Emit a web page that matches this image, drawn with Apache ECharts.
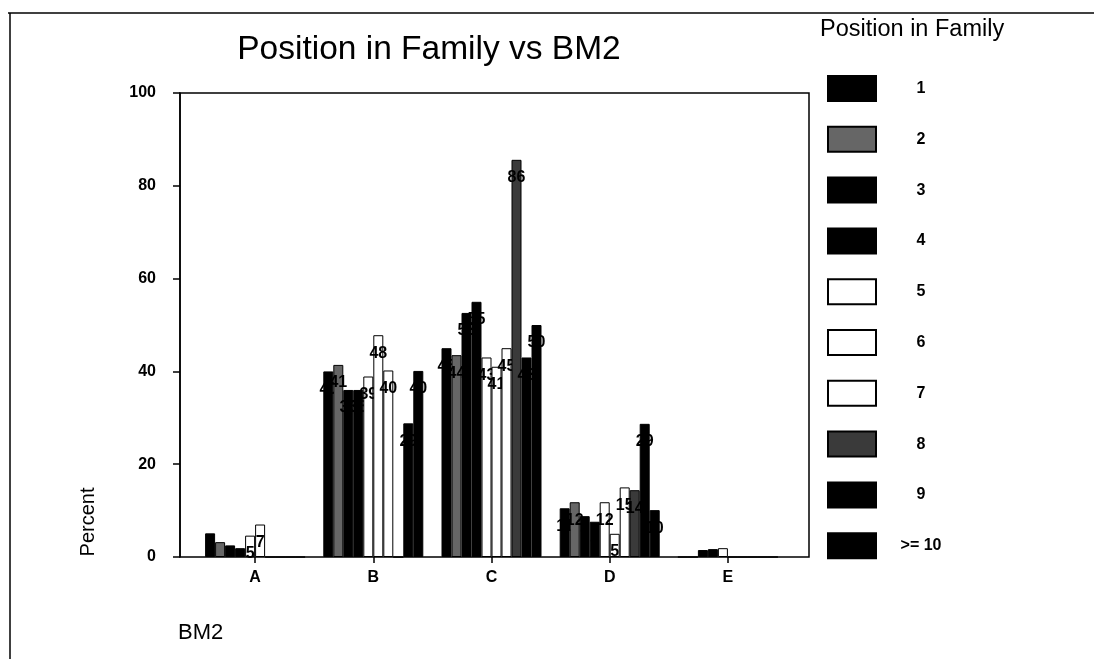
<!DOCTYPE html>
<html>
<head>
<meta charset="utf-8">
<title>Position in Family vs BM2</title>
<script src="https://cdn.jsdelivr.net/npm/echarts@6/dist/echarts.min.js"></script>
<style>
  html, body { margin: 0; padding: 0; background: #fff; }
  #chart { width: 1094px; height: 659px; }
</style>
</head>
<body>
<div id="chart"></div>
<script>
// BM2 categories on the x axis
const categories = ['A', 'B', 'C', 'D', 'E'];
// Position in family (one bar series each)
const positions = ['1', '2', '3', '4', '5', '6', '7', '8', '9', '>= 10'];

// Percent of each position-in-family group falling in a BM2 category
// (values listed in position order 1 .. >= 10)
const bm2A = [5.1, 3.2, 2.5, 1.9, 4.6, 7.0, 0, 0, 0, 0];
const bm2B = [40.0, 41.4, 36.0, 36.0, 38.9, 47.8, 40.2, 0, 28.8, 40.1];
const bm2C = [45.0, 43.5, 52.6, 55.0, 43.0, 41.0, 45.0, 85.6, 43.0, 50.0];
const bm2D = [10.5, 11.8, 8.8, 7.6, 11.8, 5.0, 15.0, 14.4, 28.7, 10.1];
const bm2E = [0, 0, 1.5, 1.7, 1.9, 0, 0, 0, 0, 0];

const yTicks = { min: 0, max: 100, step: 20 };

const fills = ['#000000', '#666666', '#000000', '#000000', '#ffffff',
               '#ffffff', '#ffffff', '#3a3a3a', '#000000', '#000000'];

const FONT = '"Liberation Sans", Arial, Helvetica, sans-serif';
const byCategory = [bm2A, bm2B, bm2C, bm2D, bm2E];

// each later series (bars + labels) is painted over the previous one
const series = positions.map((name, i) => ({
  name,
  type: 'bar',
  xAxisIndex: 1,
  yAxisIndex: 1,
  z: 2 + i,
  barWidth: 10,
  barGap: '0%',
  data: byCategory.map(g => g[i]),
  itemStyle: { color: fills[i], borderColor: '#000', borderWidth: 1 },
  label: {
    show: true,
    position: 'insideTop',
    distance: 10,
    color: '#000',
    textBorderWidth: 0,
    textBorderColor: 'transparent',
    fontFamily: FONT,
    fontWeight: 'bold',
    fontSize: 16,
    formatter: p => (p.value >= 4.5 ? String(Math.round(p.value)) : '')
  },
  emphasis: { disabled: true },
  animation: false
}));

const chart = echarts.init(document.getElementById('chart'), null, { renderer: 'canvas' });

chart.setOption({
  backgroundColor: '#ffffff',
  animation: false,
  grid: [
    // plot frame
    { left: 180, top: 93, width: 629, height: 464, show: true,
      borderColor: '#000', borderWidth: 1.5, backgroundColor: 'transparent' },
    // bar area (category bands inset from the frame)
    { left: 196, top: 93, width: 591, height: 464 }
  ],
  xAxis: [
    { gridIndex: 0, type: 'value', min: 0, max: 1, show: false },
    {
      gridIndex: 1, type: 'category', data: categories,
      axisLine: { show: false },
      axisTick: { show: true, alignWithLabel: true, length: 6,
                  lineStyle: { color: '#000', width: 1.5 } },
      axisLabel: { margin: 13, color: '#000', fontFamily: FONT,
                   fontWeight: 'bold', fontSize: 16 },
      splitLine: { show: false }
    }
  ],
  yAxis: [
    {
      gridIndex: 0, type: 'value',
      min: yTicks.min, max: yTicks.max, interval: yTicks.step,
      axisLine: { show: true, lineStyle: { color: '#000', width: 1.5 } },
      axisTick: { show: true, length: 7, lineStyle: { color: '#000', width: 1.5 } },
      axisLabel: { margin: 24, color: '#000', fontFamily: FONT,
                   fontWeight: 'bold', fontSize: 16 },
      splitLine: { show: false }
    },
    { gridIndex: 1, type: 'value', min: yTicks.min, max: yTicks.max, show: false }
  ],
  legend: {
    orient: 'vertical',
    left: 827,
    top: 75,
    padding: 0,
    itemWidth: 48,
    itemHeight: 25,
    itemGap: 23.8,
    icon: 'rect',
    selectedMode: false,
    data: positions,
    formatter: n => '{t|' + n + '}',
    textStyle: {
      color: '#000',
      fontFamily: FONT,
      fontWeight: 'bold',
      fontSize: 16,
      lineHeight: 18,
      rich: { t: { width: 80, align: 'center', fontFamily: FONT, lineHeight: 18,
                   fontWeight: 'bold', fontSize: 16, color: '#000' } }
    }
  },
  graphic: [
    // outer frame edges
    { type: 'line', shape: { x1: 8, y1: 13, x2: 1094, y2: 13 },
      style: { stroke: '#000', lineWidth: 1.5 } },
    { type: 'line', shape: { x1: 10, y1: 13, x2: 10, y2: 659 },
      style: { stroke: '#000', lineWidth: 1.5 } },
    { type: 'text', x: 429, y: 50,
      style: { text: 'Position in Family vs BM2', fill: '#000', font: '33.5px ' + FONT,
               textAlign: 'center', textVerticalAlign: 'middle' } },
    { type: 'text', x: 820, y: 30,
      style: { text: 'Position in Family', fill: '#000', font: '23.5px ' + FONT,
               textAlign: 'left', textVerticalAlign: 'middle' } },
    { type: 'text', x: 88, y: 522, rotation: Math.PI / 2,
      style: { text: 'Percent', fill: '#000', font: '20px ' + FONT,
               textAlign: 'center', textVerticalAlign: 'middle' } },
    { type: 'text', x: 178, y: 633,
      style: { text: 'BM2', fill: '#000', font: '22px ' + FONT,
               textAlign: 'left', textVerticalAlign: 'middle' } }
  ],
  series
});
</script>
</body>
</html>
